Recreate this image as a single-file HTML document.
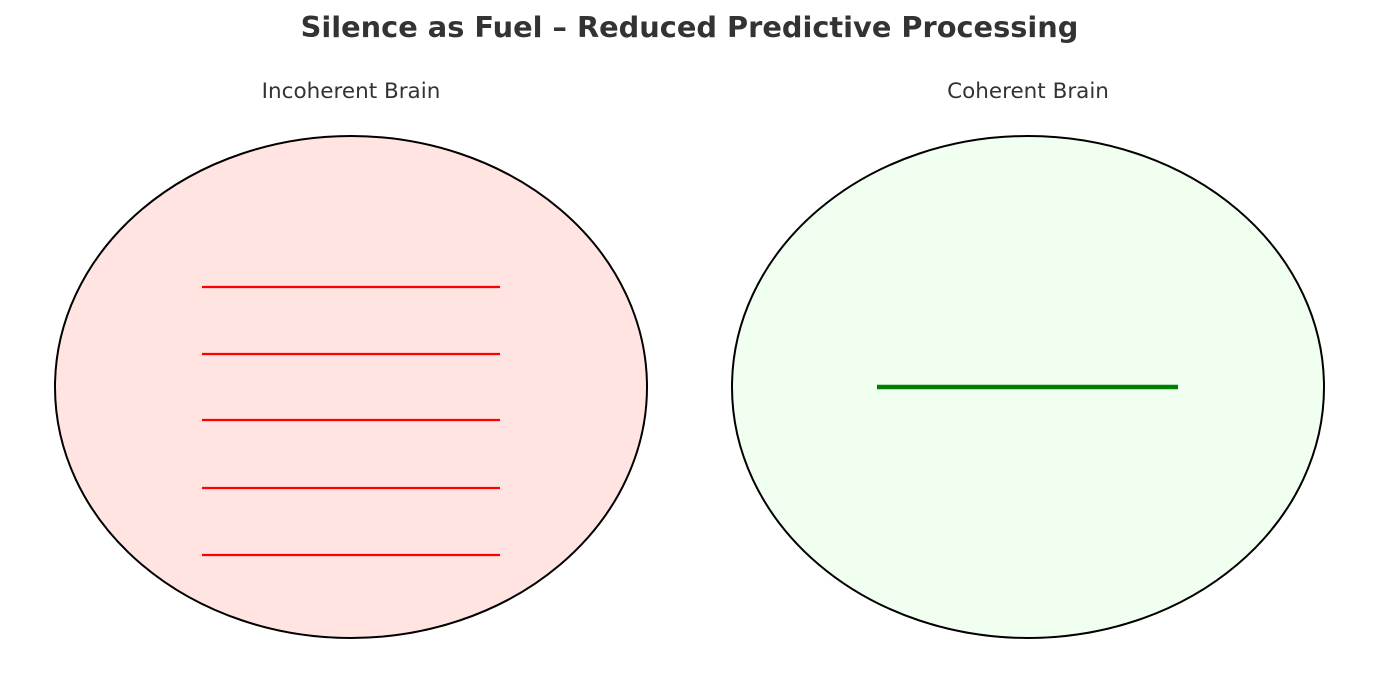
<!DOCTYPE html>
<html><head><style>html,body{margin:0;padding:0;background:#fff;}svg{display:block}</style></head>
<body>
<svg width="1379" height="689" viewBox="0 0 1379 689" xmlns="http://www.w3.org/2000/svg">
<text x="689.5" y="37" text-anchor="middle" font-family="DejaVu Sans, sans-serif" font-weight="bold" font-size="28.8" fill="#333">Silence as Fuel – Reduced Predictive Processing</text>
<text x="351" y="98" text-anchor="middle" font-family="DejaVu Sans, sans-serif" font-size="21.5" fill="#333">Incoherent Brain</text>
<text x="1028" y="98" text-anchor="middle" font-family="DejaVu Sans, sans-serif" font-size="21.5" fill="#333">Coherent Brain</text>
<ellipse cx="351" cy="387" rx="296" ry="251" fill="#ffe4e1" stroke="#000" stroke-width="2"/>
<ellipse cx="1028" cy="387" rx="296" ry="251" fill="#f0fff0" stroke="#000" stroke-width="2"/>
<g stroke="#ff0000" stroke-width="2.2">
<line x1="202" y1="287" x2="500" y2="287"/>
<line x1="202" y1="354" x2="500" y2="354"/>
<line x1="202" y1="420" x2="500" y2="420"/>
<line x1="202" y1="488" x2="500" y2="488"/>
<line x1="202" y1="555" x2="500" y2="555"/>
</g>
<line x1="877" y1="387" x2="1178" y2="387" stroke="#008000" stroke-width="4.5"/>
</svg>
</body></html>
